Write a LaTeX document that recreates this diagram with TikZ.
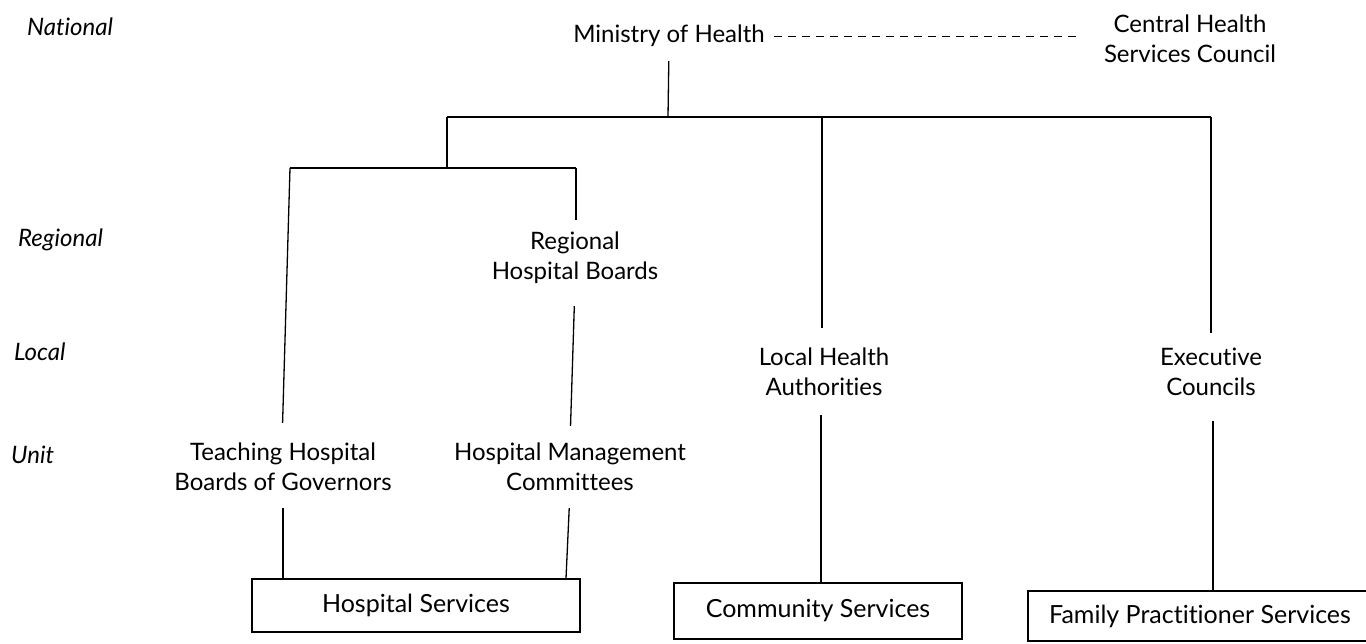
\documentclass[tikz,border=0pt]{standalone}
\usepackage{fontspec}
\setmainfont{Lato}[RawFeature=-liga]
\begin{document}
\begin{tikzpicture}[x=1pt,y=-1pt,
  font=\fontsize{24}{30}\selectfont,
  lbl/.style={align=center, inner sep=0pt},
  lvl/.style={font=\fontsize{24}{30}\selectfont\itshape, inner sep=0pt, anchor=west},
  svc/.style={draw, line width=1.3pt, inner sep=0pt, font=\fontsize{25}{30}\selectfont},
  link/.style={line width=1.3pt}]
\useasboundingbox (0,0) rectangle (1366,643);

% level labels
\node[lvl] (national) at (27,27) {National};
\node[lvl] (regional) at (18,240) {Regional};
\node[lvl] (local) at (14,352) {Local};
\node[lvl] (unit) at (11,455) {Unit};

% bodies
\node[lbl] (moh) at (669,36) {Ministry of Health};
\node[lbl] (chsc) at (1190,39) {Central Health\\Services Council};
\node[lbl] (rhb) at (575,258) {Regional\\Hospital Boards};
\node[lbl] (tbg) at (283,467) {Teaching Hospital\\Boards of Governors};
\node[lbl] (hmc) at (570,467) {Hospital Management\\Committees};
\node[lbl] (lha) at (824,372) {Local Health\\Authorities};
\node[lbl] (ec) at (1211,372) {Executive\\Councils};

% services
\node[svc, minimum width=328pt, minimum height=53pt] (hs) at (416,605.5) {Hospital Services};
\node[svc, minimum width=288pt, minimum height=56pt] (cs) at (818,611) {Community Services};
\node[svc, minimum width=344pt, minimum height=50pt] (fps) at (1200,616) {Family Practitioner Services};

% junction points
\coordinate (j0) at (668,117);
\coordinate (jL) at (447,117);
\coordinate (jM) at (822,117);
\coordinate (jR) at (1211,117);
\coordinate (jB) at (447,168);
\coordinate (jBL) at (290,168);
\coordinate (jBR) at (576,168);

% advisory link
\draw[line width=1pt, dash pattern=on 8pt off 6pt, shorten <=9pt, shorten >=26pt]
  (moh.east) -- (chsc.west |- moh.east);

% tree
\draw[link, shorten <=14pt] (moh.south) -- (j0);
\draw[link] (jL) -- (jR);
\draw[link, shorten >=15pt] (jR) -- (jR |- ec.north);
\draw[link, shorten >=20pt] (jM) -- (jM |- lha.north);
\draw[link] (jL) -- (jB);
\draw[link] (jBL) -- (jBR);
\draw[link, shorten >=20pt] (jBL) -- ([xshift=-1pt]tbg.north);
\draw[link, shorten >=12pt] (jBR) -- (jBR |- rhb.north);
\draw[link, shorten <=22pt, shorten >=17pt] (rhb.south) -- (hmc.north);
\draw[link, shorten <=17pt] (tbg.south) -- (tbg.south |- hs.north);
\draw[link, shorten <=17pt] (hmc.south) -- ([xshift=-4pt]hmc.south |- hs.north);
\draw[link, shorten <=19pt] ([xshift=-3pt]lha.south) -- ([xshift=-3pt]lha.south |- cs.north);
\draw[link, shorten <=25pt] ([xshift=2pt]ec.south) -- ([xshift=2pt]ec.south |- fps.north);
\end{tikzpicture}
\end{document}
